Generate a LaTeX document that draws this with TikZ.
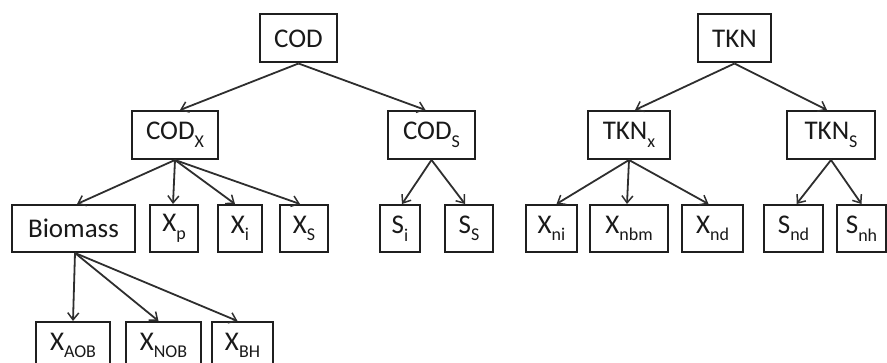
\documentclass[tikz,border=0pt]{standalone}
\usepackage{fontspec}
\setmainfont{Carlito}
\usetikzlibrary{arrows.meta}
\newcommand\sbs[1]{\raisebox{-0.28em}{\fontsize{18}{18}\selectfont #1}}
\tikzset{
  box/.style={draw=black!88, line width=2pt, inner sep=0pt, minimum height=48pt,
    font=\fontsize{27}{30}\selectfont, text=black!90},
  arr/.style={draw=black!82, line width=1.8pt, -{Straight Barb[length=7pt,width=11pt,line width=1.5pt]}}
}
\begin{document}
\begin{tikzpicture}[x=1pt,y=-1pt]
\useasboundingbox (0,0) rectangle (887,363);
% level 1
\node[box, minimum width=77pt] (cod) at (298.5,38.5) {COD};
\node[box, minimum width=73pt] (tkn) at (734.5,38.5) {TKN};
% level 2
\node[box, minimum width=86pt] (codx) at (175,135) {COD\sbs{X}};
\node[box, minimum width=87pt] (cods) at (431.5,135) {COD\sbs{S}};
\node[box, minimum width=82pt] (tknx) at (629,135) {TKN\sbs{x}};
\node[box, minimum width=88pt] (tkns) at (831,135) {TKN\sbs{S}};
% level 3
\node[box, minimum width=123pt, minimum height=47pt] (bio) at (73.5,228.5) {Biomass};
\node[box, minimum width=48pt, minimum height=47pt] (xp) at (174,228.5) {X\sbs{p}};
\node[box, minimum width=44pt, minimum height=47pt] (xi) at (240,228.5) {X\sbs{i}};
\node[box, minimum width=48pt, minimum height=47pt] (xs) at (304,228.5) {X\sbs{S}};
\node[box, minimum width=40pt, minimum height=47pt] (si) at (400,228.5) {S\sbs{i}};
\node[box, minimum width=48pt, minimum height=47pt] (ss) at (469,228.5) {S\sbs{S}};
\node[box, minimum width=51pt, minimum height=47pt] (xni) at (551.5,228.5) {X\sbs{ni}};
\node[box, minimum width=78pt, minimum height=47pt] (xnbm) at (629,228.5) {X\sbs{nbm}};
\node[box, minimum width=61pt, minimum height=47pt] (xnd) at (712.5,228.5) {X\sbs{nd}};
\node[box, minimum width=59pt, minimum height=47pt] (snd) at (793.5,228.5) {S\sbs{nd}};
\node[box, minimum width=49pt, minimum height=47pt] (snh) at (861.5,228.5) {S\sbs{nh}};
% level 4
\node[box, minimum width=74pt, minimum height=47pt] (xaob) at (73,345.5) {X\sbs{AOB}};
\node[box, minimum width=75pt, minimum height=47pt] (xnob) at (163.5,345.5) {X\sbs{NOB}};
\node[box, minimum width=61pt, minimum height=47pt] (xbh) at (242.5,345.5) {X\sbs{BH}};
% arrows
\draw[arr] (cod.south) -- ([xshift=5pt]codx.north);
\draw[arr] (cod.south) -- ([xshift=-6pt]cods.north);
\draw[arr] (tkn.south) -- ([xshift=6pt]tknx.north);
\draw[arr] (tkn.south) -- ([xshift=-4pt]tkns.north);
\draw[arr] (codx.south) -- ([xshift=3.5pt]bio.north);
\draw[arr] (codx.south) -- ([xshift=-1pt]xp.north);
\draw[arr] (codx.south) -- ([xshift=-5pt]xi.north);
\draw[arr] (codx.south) -- ([xshift=-4pt]xs.north);
\draw[arr] (cods.south) -- ([xshift=2pt]si.north);
\draw[arr] (cods.south) -- ([xshift=-4pt]ss.north);
\draw[arr] (tknx.south) -- ([xshift=5pt]xni.north);
\draw[arr] (tknx.south) -- ([xshift=-2pt]xnbm.north);
\draw[arr] (tknx.south) -- ([xshift=-4pt]xnd.north);
\draw[arr] (tkns.south) -- ([xshift=3pt]snd.north);
\draw[arr] (tkns.south) -- (snh.north);
\draw[arr] ([xshift=1.5pt]bio.south) -- (xaob.north);
\draw[arr] ([xshift=1.5pt]bio.south) -- ([xshift=-5pt]xnob.north);
\draw[arr] ([xshift=1.5pt]bio.south) -- ([xshift=-5pt]xbh.north);
\end{tikzpicture}
\end{document}
